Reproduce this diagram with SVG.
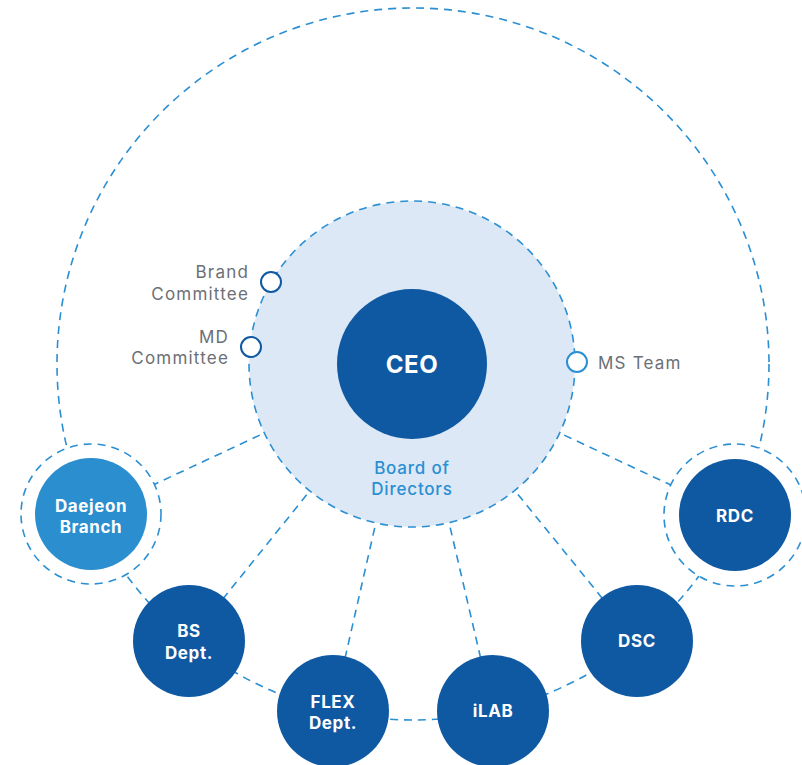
<svg xmlns="http://www.w3.org/2000/svg" width="802" height="765" viewBox="0 0 802 765">
  <style>
    .dash { fill: none; stroke: #2b8fd3; stroke-width: 1.6; stroke-dasharray: 8 6; }
    .ring { fill: #ffffff; stroke: #2b8fd3; stroke-width: 1.6; stroke-dasharray: 8 6; }
    .unit { fill: #0f58a2; }
    .branch { fill: #2a8ecf; }
    .label { font-family: Inter, "Noto Sans", "Liberation Sans", sans-serif; font-weight: 700; font-size: 17px; letter-spacing: 0.6px; fill: #ffffff; text-anchor: middle; }
    .board { font-family: Inter, "Noto Sans", "Liberation Sans", sans-serif; font-weight: 500; font-size: 17px; letter-spacing: 0.8px; fill: #2b8fd3; text-anchor: middle; }
    .side { font-family: Inter, "Noto Sans", "Liberation Sans", sans-serif; font-size: 17px; letter-spacing: 1.2px; fill: #6b6f76; }
    .pin { fill: #ffffff; stroke-width: 2; }
  </style>
  <rect width="802" height="765" fill="#ffffff"/>

  <!-- connectors: outer orbit and spokes from the centre -->
  <g id="connectors">
    <circle class="dash" cx="413" cy="364" r="356"/>
    <line class="dash" x1="412" y1="364" x2="91" y2="514"/>
    <line class="dash" x1="412" y1="364" x2="189" y2="641"/>
    <line class="dash" x1="412" y1="364" x2="333" y2="711"/>
    <line class="dash" x1="412" y1="364" x2="493" y2="711"/>
    <line class="dash" x1="412" y1="364" x2="637" y2="641"/>
    <line class="dash" x1="412" y1="364" x2="735" y2="515"/>
  </g>

  <!-- board of directors circle -->
  <g id="board">
    <circle cx="412" cy="364" r="163" fill="#dce8f5" stroke="#2b8fd3" stroke-width="1.6" stroke-dasharray="8 6"/>
    <text class="board" x="412" y="474">Board of</text>
    <text class="board" x="412" y="495">Directors</text>
  </g>
  <g id="ceo">
    <circle class="unit" cx="412" cy="364" r="75"/>
    <text class="label" x="412" y="373" style="font-size:24px;letter-spacing:0.5px">CEO</text>
  </g>

  <!-- committees on the board ring -->
  <g id="brand-committee">
    <circle class="pin" cx="271" cy="282" r="10" stroke="#0f58a2"/>
    <text class="side" x="249" y="278" text-anchor="end">Brand</text>
    <text class="side" x="249" y="300" text-anchor="end">Committee</text>
  </g>
  <g id="md-committee">
    <circle class="pin" cx="251" cy="347" r="10" stroke="#0f58a2"/>
    <text class="side" x="229" y="343" text-anchor="end">MD</text>
    <text class="side" x="229" y="364" text-anchor="end">Committee</text>
  </g>
  <g id="ms-team">
    <circle class="pin" cx="577" cy="362" r="10" stroke="#2b8fd3"/>
    <text class="side" x="598" y="369">MS Team</text>
  </g>

  <!-- outer units -->
  <g id="daejeon-branch">
    <circle class="ring" cx="91" cy="514" r="70"/>
    <circle class="branch" cx="91" cy="514" r="56"/>
    <text class="label" x="91" y="512">Daejeon</text>
    <text class="label" x="91" y="533">Branch</text>
  </g>
  <g id="bs-dept">
    <circle class="unit" cx="189" cy="641" r="56"/>
    <text class="label" x="189" y="637">BS</text>
    <text class="label" x="189" y="659">Dept.</text>
  </g>
  <g id="flex-dept">
    <circle class="unit" cx="333" cy="711" r="56"/>
    <text class="label" x="333" y="708">FLEX</text>
    <text class="label" x="333" y="729">Dept.</text>
  </g>
  <g id="ilab">
    <circle class="unit" cx="493" cy="711" r="56"/>
    <text class="label" x="493" y="717">iLAB</text>
  </g>
  <g id="dsc">
    <circle class="unit" cx="637" cy="641" r="56"/>
    <text class="label" x="637" y="647">DSC</text>
  </g>
  <g id="rdc">
    <circle class="ring" cx="735" cy="515" r="71"/>
    <circle class="unit" cx="735" cy="515" r="56"/>
    <text class="label" x="735" y="522">RDC</text>
  </g>
</svg>
